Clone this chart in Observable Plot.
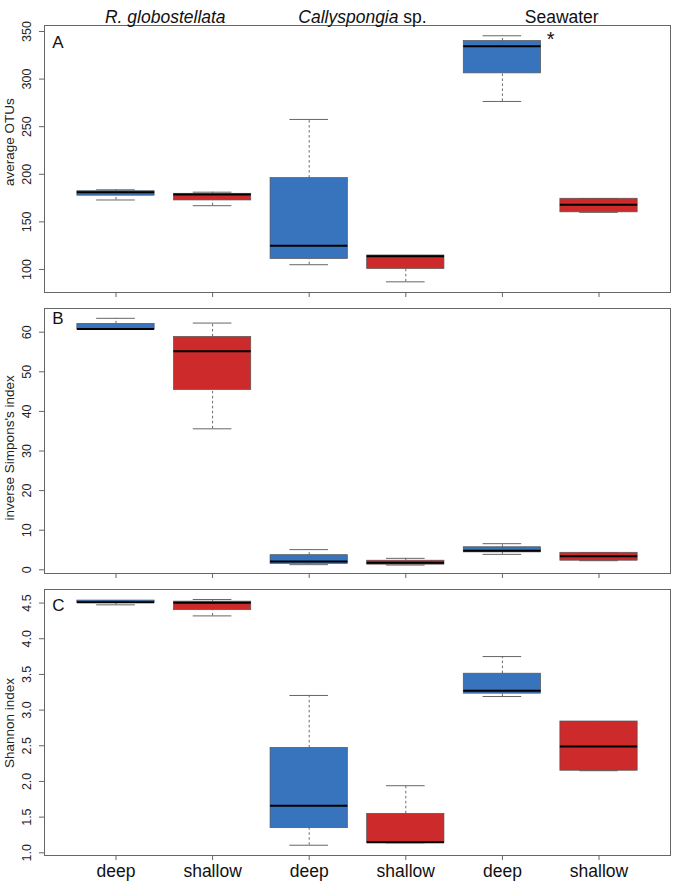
<!DOCTYPE html>
<html><head><meta charset="utf-8">
<script src="https://cdn.jsdelivr.net/npm/d3@7"></script>
<script src="https://cdn.jsdelivr.net/npm/@observablehq/plot@0.6"></script>
<style>body{margin:0;background:#fff;} #chart{width:674px;} #chart svg{display:block;}</style>
</head><body><div id="chart"></div>
<script>
// categories
const positions = [1, 2, 3, 4, 5, 6];
const depths = ["deep", "shallow", "deep", "shallow", "deep", "shallow"];
const groups = ["R. globostellata", "Callyspongia sp.", "Seawater"];

// Panel A: average OTUs (min, q1, median, q3, max)
const otuMin = [173, 167, 105, 87, 276.5, 160];
const otuQ1  = [177.5, 172.5, 111, 100.5, 306, 160];
const otuMed = [181, 178.7, 125, 114, 334.5, 168];
const otuQ3  = [182.2, 179.5, 196, 114.7, 340, 174.3];
const otuMax = [183.7, 181.2, 257.6, 114.7, 345.5, 174.3];

// Panel B: inverse Simpson's index
const simMin = [60.7, 35.6, 1.3, 1.2, 3.9, 2.3];
const simQ1  = [60.7, 45.4, 1.5, 1.3, 4.4, 2.3];
const simMed = [60.8, 55.2, 2.1, 1.8, 4.8, 3.4];
const simQ3  = [62.1, 58.8, 3.7, 2.3, 5.7, 4.3];
const simMax = [63.5, 62.3, 5.1, 2.9, 6.6, 4.3];

// Panel C: Shannon index
const shMin = [4.475, 4.32, 1.106, 1.14, 3.19, 2.15];
const shQ1  = [4.50, 4.40, 1.345, 1.14, 3.23, 2.15];
const shMed = [4.51, 4.505, 1.66, 1.148, 3.27, 2.49];
const shQ3  = [4.535, 4.52, 2.47, 1.546, 3.51, 2.84];
const shMax = [4.535, 4.55, 3.205, 1.94, 3.75, 2.84];

// tick labels
const ticksA = [100, 150, 200, 250, 300, 350];
const ticksB = [0, 10, 20, 30, 40, 50, 60];
const ticksC = [1.0, 1.5, 2.0, 2.5, 3.0, 3.5, 4.0, 4.5];

const blue = "#3873BD";
const red = "#CD2A2B";
const FONT = "'Liberation Sans', Arial, Helvetica, sans-serif";

function rowsOf(min, q1, med, q3, max) {
  return positions.map((p, i) => ({pos: p, habitat: depths[i], min: min[i], q1: q1[i], med: med[i], q3: q3[i], max: max[i]}));
}

function boxMarks(rows) {
  const half = 0.4, cap = 0.2;
  return [
    Plot.ruleX(rows, {x: "pos", y1: "q3", y2: "max", stroke: "#444", strokeWidth: 0.8, strokeDasharray: "2.5,2.5"}),
    Plot.ruleX(rows, {x: "pos", y1: "min", y2: "q1", stroke: "#444", strokeWidth: 0.8, strokeDasharray: "2.5,2.5"}),
    Plot.ruleY(rows, {y: "max", x1: d => d.pos - cap, x2: d => d.pos + cap, stroke: "#666", strokeWidth: 1}),
    Plot.ruleY(rows, {y: "min", x1: d => d.pos - cap, x2: d => d.pos + cap, stroke: "#666", strokeWidth: 1}),
    Plot.rect(rows, {x1: d => d.pos - half, x2: d => d.pos + half, y1: "q1", y2: "q3", fill: "habitat", stroke: "#555", strokeWidth: 0.7}),
    Plot.ruleY(rows, {y: "med", x1: d => d.pos - half, x2: d => d.pos + half, stroke: "#000", strokeWidth: 2})
  ];
}

function panel({height, marginTop, marginBottom, yDomain, yTicks, yFormat, title, titleY, letter, letterY, rows, showLabels, extra = []}) {
  return Plot.plot({
    width: 674, height, marginLeft: 44, marginRight: 4, marginTop, marginBottom,
    x: {type: "linear", domain: [0.26, 6.74]},
    y: {domain: yDomain},
    color: {domain: ["deep", "shallow"], range: [blue, red]},
    style: {fontFamily: FONT, background: "#fff", overflow: "visible"},
    marks: [
      Plot.axisX(positions, {tickSize: 5, tickPadding: 4, stroke: "#666", fill: "#111", fontSize: 17.5,
        tickFormat: showLabels ? (d => depths[positions.indexOf(d)]) : (() => ""), label: null}),
      Plot.axisY(yTicks, {tickSize: 5, stroke: "#666", tickFormat: () => "", label: null}),
      Plot.text(yTicks, {y: d => d, text: yFormat, frameAnchor: "left", dx: -18, rotate: -90, textAnchor: "middle", fontSize: 12.5, fill: "#222"}),
      Plot.text([title], {y: () => titleY, text: d => d, frameAnchor: "left", dx: -35, rotate: -90, textAnchor: "middle", fontSize: 13.5, fill: "#222"}),
      Plot.text([letter], {y: () => letterY, text: d => d, frameAnchor: "left", dx: 7.7, textAnchor: "start", fontSize: 17, fill: "#111"}),
      ...boxMarks(rows),
      Plot.frame({stroke: "#666", strokeWidth: 1}),
      ...extra
    ]
  });
}

const groupCenters = groups.map((g, i) => positions[2 * i] + 0.5);

const headerMarks = [
  Plot.text([groups[0]], {x: () => groupCenters[0], text: d => d, frameAnchor: "top", dy: -15, dx: 1, fontSize: 17.5, fontStyle: "italic", fill: "#111"}),
  Plot.text([groups[1].split(" ")[0]], {x: () => groupCenters[1], text: d => d, frameAnchor: "top", dy: -15, dx: 41, textAnchor: "end", fontSize: 17.5, fontStyle: "italic", fill: "#111"}),
  Plot.text([groups[1].split(" ")[1]], {x: () => groupCenters[1], text: d => "\u00a0" + d, frameAnchor: "top", dy: -15, dx: 41, textAnchor: "start", fontSize: 17.5, fill: "#111"}),
  Plot.text([groups[2]], {x: () => groupCenters[2], text: d => d, frameAnchor: "top", dy: -15, dx: 11, fontSize: 17.5, fill: "#111"}),
  Plot.text(["*"], {x: () => groupCenters[2], y: () => 341.8, text: d => d, fontSize: 20, fill: "#111"})
];

const chart = document.getElementById("chart");
chart.append(panel({
  height: 300, marginTop: 25, marginBottom: 8, yDomain: [75.8, 356.3], yTicks: ticksA, yFormat: d => String(d),
  title: "average OTUs", titleY: 233.7, letter: "A", letterY: 337.9,
  rows: rowsOf(otuMin, otuQ1, otuMed, otuQ3, otuMax), showLabels: false, extra: headerMarks
}));
chart.append(panel({
  height: 280, marginTop: 8, marginBottom: 7, yDomain: [-0.93, 65.98], yTicks: ticksB, yFormat: d => String(d),
  title: "inverse Simpons's index", titleY: 30.8, letter: "B", letterY: 63.46,
  rows: rowsOf(simMin, simQ1, simMed, simQ3, simMax), showLabels: false
}));
chart.append(panel({
  height: 302, marginTop: 9, marginBottom: 27, yDomain: [0.962, 4.69], yTicks: ticksC, yFormat: d => d.toFixed(1),
  title: "Shannon index", titleY: 2.82, letter: "C", letterY: 4.468,
  rows: rowsOf(shMin, shQ1, shMed, shQ3, shMax), showLabels: true
}));
</script>
</body></html>
